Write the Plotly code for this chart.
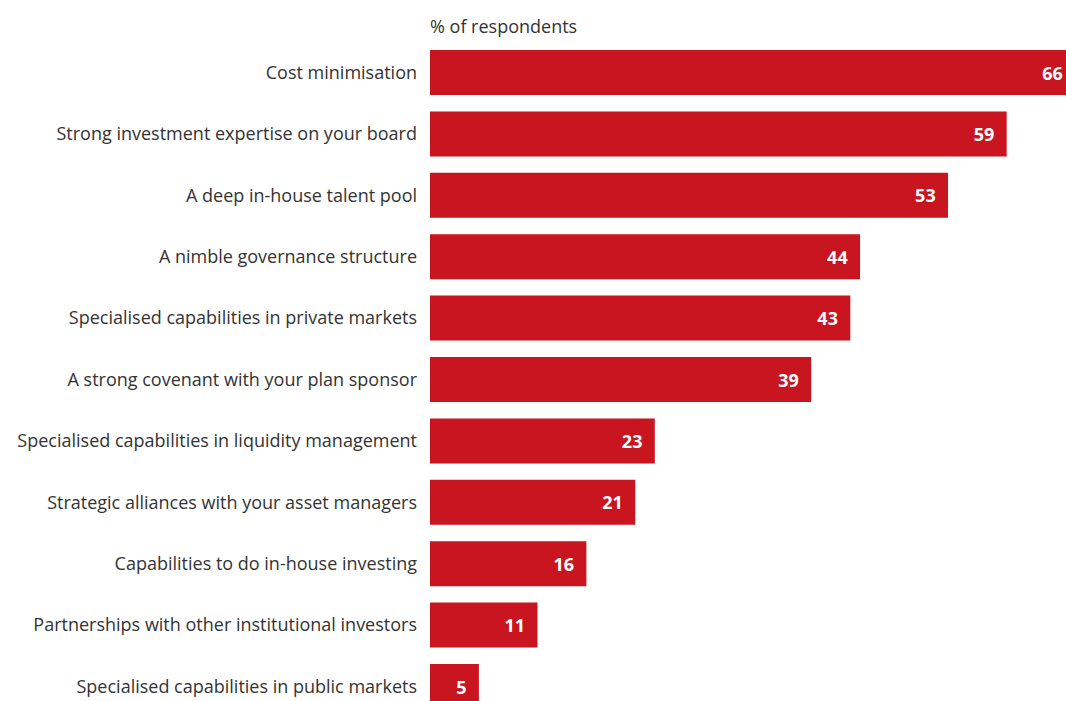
import plotly.graph_objects as go

# Survey responses: share of respondents citing each factor
categories = [
    "Cost minimisation",
    "Strong investment expertise on your board",
    "A deep in-house talent pool",
    "A nimble governance structure",
    "Specialised capabilities in private markets",
    "A strong covenant with your plan sponsor",
    "Specialised capabilities in liquidity management",
    "Strategic alliances with your asset managers",
    "Capabilities to do in-house investing",
    "Partnerships with other institutional investors",
    "Specialised capabilities in public markets",
]
values = [66, 59, 53, 44, 43, 39, 23, 21, 16, 11, 5]
axis_title = "% of respondents"

BAR_RED = "#C8151F"
TEXT_GREY = "#333333"
FONT = "Open Sans, Noto Sans, sans-serif"

fig = go.Figure(
    go.Bar(
        x=values,
        y=categories,
        orientation="h",
        width=0.733,
        marker=dict(color=BAR_RED, line=dict(width=0)),
        text=[f"{v}\u00a0\u00a0" for v in values],
        textposition="inside",
        insidetextanchor="end",
        textfont=dict(family=FONT, size=18, color="white", weight="bold"),
        constraintext="none",
        cliponaxis=True,
        hoverinfo="skip",
    )
)

fig.add_annotation(
    text=axis_title,
    xref="paper", yref="paper",
    x=0, y=1 - 26 / 701,
    xanchor="left", yanchor="middle",
    xshift=-2,
    showarrow=False,
    font=dict(family=FONT, size=18, color=TEXT_GREY),
)

fig.update_layout(
    width=1066,
    height=701,
    margin=dict(l=430, r=0, t=0, b=0),
    paper_bgcolor="white",
    plot_bgcolor="white",
    showlegend=False,
    uniformtext=dict(mode=False),
    xaxis=dict(
        range=[0, 65.07],
        visible=False,
        fixedrange=True,
    ),
    yaxis=dict(
        type="category",
        categoryorder="array",
        categoryarray=categories,
        range=[10.236, -1.181],
        showgrid=False,
        zeroline=False,
        showline=False,
        ticks="",
        ticklabelstandoff=12,
        tickfont=dict(family=FONT, size=18, color=TEXT_GREY),
        fixedrange=True,
    ),
)

fig.write_html("out.html")
